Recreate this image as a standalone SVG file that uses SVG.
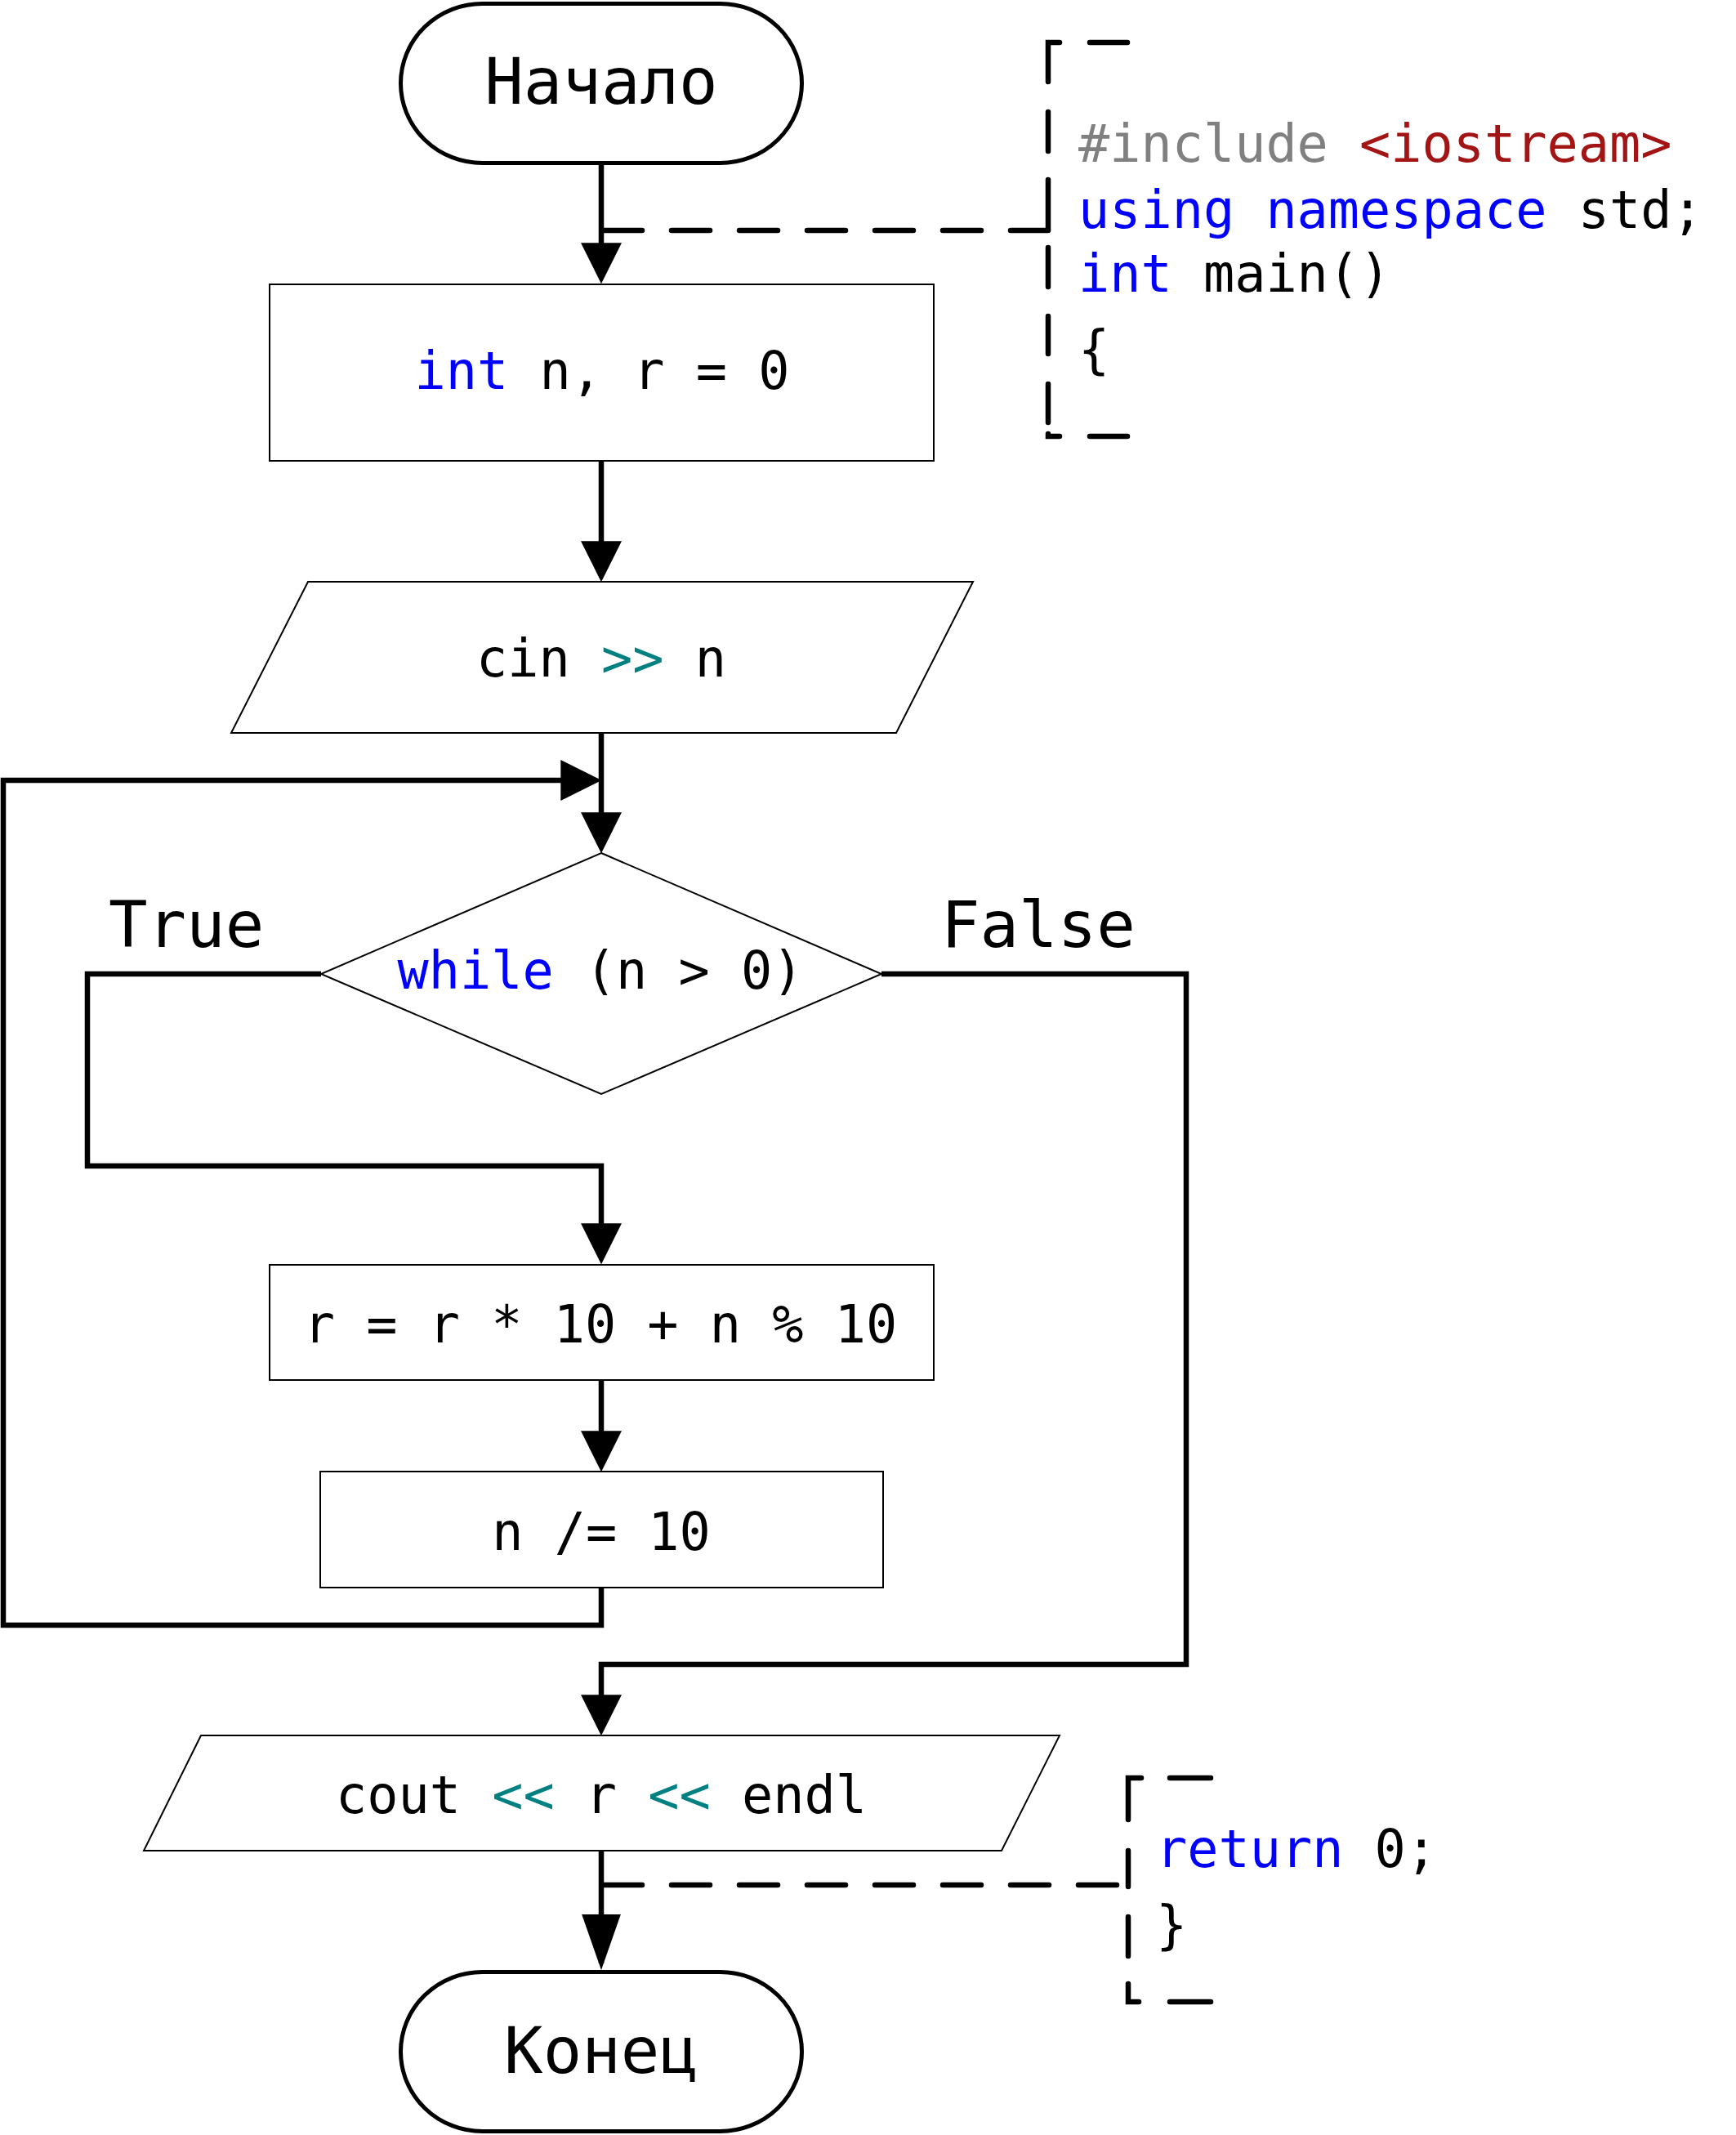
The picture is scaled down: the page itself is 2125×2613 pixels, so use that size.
<svg xmlns="http://www.w3.org/2000/svg" width="2125" height="2613" viewBox="0 0 2125 2613">
<style>
  .term { fill: #ffffff; stroke: #000000; stroke-width: 5; }
  .box { fill: #ffffff; stroke: #000000; stroke-width: 2; }
  .conn { fill: none; stroke: #000000; stroke-width: 6.5; stroke-linejoin: miter; stroke-linecap: butt; }
  .dashed { fill: none; stroke: #000000; stroke-width: 6.5; stroke-dasharray: 47 36; stroke-linecap: round; }
  .brk { fill: none; stroke: #000000; stroke-width: 6.5; stroke-linecap: round; stroke-linejoin: miter; }
  text { font-family: "DejaVu Sans Mono", "Liberation Mono", monospace; fill: #000000; }
  .code { font-size: 63.5px; }
  .lbl { font-size: 79px; }
  .mid { text-anchor: middle; }
  .kw { fill: #0000ff; }
  .op { fill: #008080; }
  .pp { fill: #808080; }
  .inc { fill: #a31515; }
</style>
<defs>
  <marker id="arr" markerUnits="userSpaceOnUse" markerWidth="50" markerHeight="50" viewBox="0 0 48 48" refX="40" refY="24" orient="auto">
    <path d="M0,0 L48,24 L0,48 Z" fill="#000000"/>
  </marker>
  <marker id="arrL" markerUnits="userSpaceOnUse" markerWidth="68" markerHeight="48" viewBox="0 0 67 47" refX="59" refY="23.5" orient="auto">
    <path d="M0,0 L67,23.5 L0,47 Z" fill="#000000"/>
  </marker>
</defs>

<g id="connectors">
  <path class="conn" d="M736,200 V339" marker-end="url(#arr)"/>
  <path class="conn" d="M736,564 V704" marker-end="url(#arr)"/>
  <path class="conn" d="M736,897 V1036" marker-end="url(#arr)"/>
  <path class="conn" d="M736,1943 V1989 H4 V955 H728" marker-end="url(#arr)"/>
  <path class="conn" d="M393,1192 H107 V1427 H736 V1539" marker-end="url(#arr)"/>
  <path class="conn" d="M736,1689 V1793" marker-end="url(#arr)"/>
  <path class="conn" d="M1079,1192 H1452 V2037 H736 V2116" marker-end="url(#arr)"/>
  <path class="conn" d="M736,2265 V2403" marker-end="url(#arrL)"/>
  <path class="dashed" d="M739,282 H1283"/>
  <path class="dashed" d="M739,2307 H1381"/>
</g>

<g id="start">
  <rect class="term" x="490.5" y="4.5" width="491" height="195" rx="100" ry="97.5"/>
  <text class="lbl mid" x="736" y="127">Начало</text>
</g>

<g id="decl">
  <rect class="box" x="330" y="348" width="813" height="216"/>
  <text class="code mid" x="737" y="476"><tspan class="kw">int</tspan> n, r = 0</text>
</g>

<g id="input">
  <polygon class="box" points="377,712 1191,712 1097,897 283,897"/>
  <text class="code mid" x="736" y="828">cin <tspan class="op">&gt;&gt;</tspan> n</text>
</g>

<g id="loop">
  <polygon class="box" points="736,1044 1079,1192 736,1339 393,1192"/>
  <text class="code mid" x="735" y="1210"><tspan class="kw">while</tspan> (n &gt; 0)</text>
</g>

<g id="label-true">
  <text class="lbl" x="133" y="1159">True</text>
</g>

<g id="label-false">
  <text class="lbl" x="1152" y="1159">False</text>
</g>

<g id="calc">
  <rect class="box" x="330" y="1548" width="813" height="141"/>
  <text class="code mid" x="735" y="1643">r = r * 10 + n % 10</text>
</g>

<g id="divide">
  <rect class="box" x="392" y="1801" width="689" height="142"/>
  <text class="code mid" x="736" y="1897">n /= 10</text>
</g>

<g id="output">
  <polygon class="box" points="246,2124 1297,2124 1226,2265 176,2265"/>
  <text class="code mid" x="736" y="2219">cout <tspan class="op">&lt;&lt;</tspan> r <tspan class="op">&lt;&lt;</tspan> endl</text>
</g>

<g id="end">
  <rect class="term" x="490.5" y="2413.5" width="491" height="195" rx="100" ry="97.5"/>
  <text class="lbl mid" x="736" y="2537">Конец</text>
</g>

<g id="comment-top">
  <path class="brk" d="M1334,52 H1380 M1297,52 H1283 V100 M1283,137 V185 M1283,220 V281 M1283,303 V351 M1283,387 V433 M1283,470 V517 M1283,531 V534 H1297 M1334,534 H1380"/>
  <text class="code" x="1320" y="198"><tspan class="pp">#include</tspan> <tspan class="inc">&lt;iostream&gt;</tspan></text>
  <text class="code" x="1320" y="279"><tspan class="kw">using</tspan> <tspan class="kw">namespace</tspan> std;</text>
  <text class="code" x="1320" y="357"><tspan class="kw">int</tspan> main()</text>
  <text class="code" x="1320" y="450">{</text>
</g>

<g id="comment-bottom">
  <path class="brk" d="M1432,2176 H1482 M1397,2176 H1381 V2227 M1381,2265 V2309 M1381,2346 V2394 M1381,2428 V2450 H1394 M1432,2450 H1482"/>
  <text class="code" x="1415" y="2285"><tspan class="kw">return</tspan> 0;</text>
  <text class="code" x="1415" y="2378">}</text>
</g>
</svg>
